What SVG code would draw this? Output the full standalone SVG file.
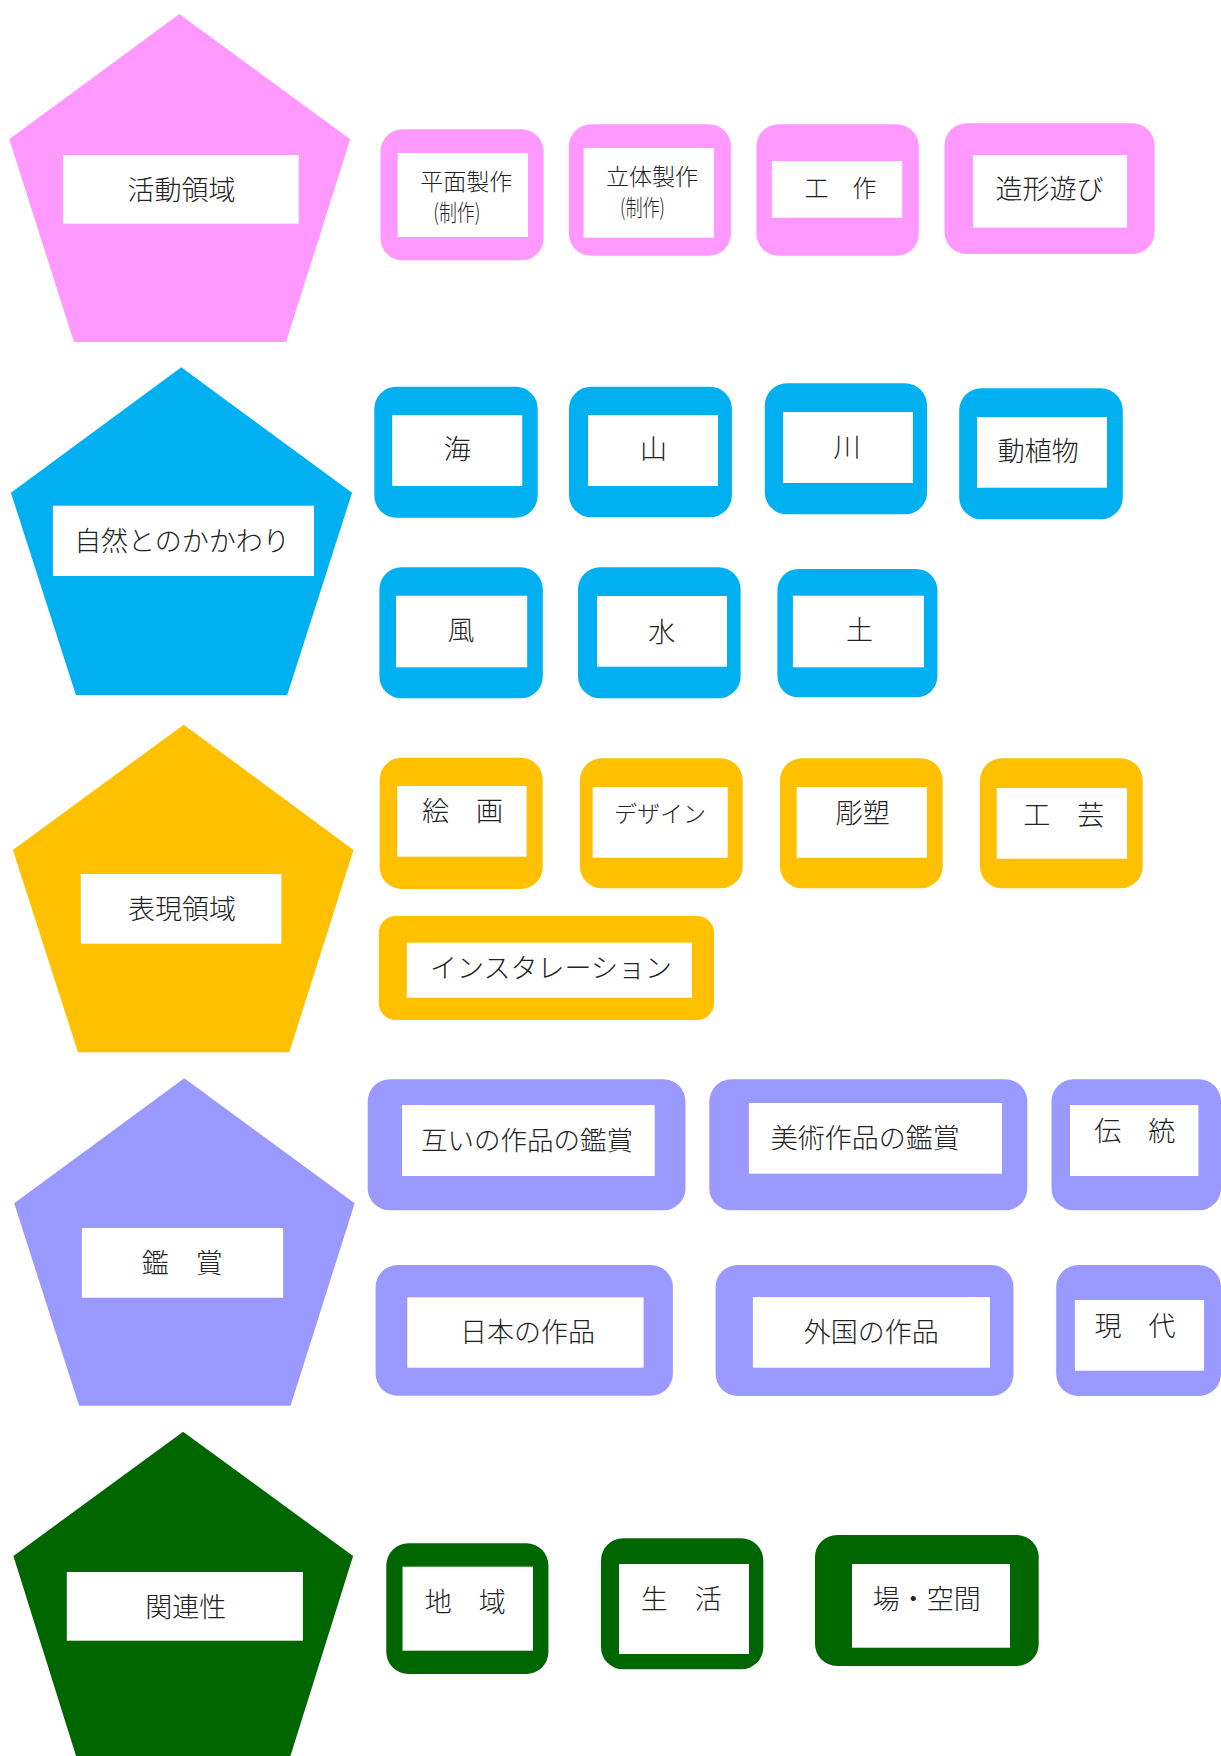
<svg xmlns="http://www.w3.org/2000/svg" width="1221" height="1756" viewBox="0 0 1221 1756">
<style>
text{font-family:"Noto Sans CJK JP","Noto Sans CJK SC",sans-serif;font-weight:300;fill:#222;text-anchor:middle;font-size:27px}
.s{font-size:23px}
.m{font-size:24px}
.w{fill:#fff}
.pk{fill:#ff99ff}
.bl{fill:#00b0f0}
.yl{fill:#ffc000}
.lv{fill:#9999ff}
.gr{fill:#006600}
</style>
<rect width="1221" height="1756" fill="#fff"/>
<g id="connectors"></g>

<!-- Row 1 -->
<g id="cat-katsudo">
<polygon class="pk" points="179.4,14 350.2,139.3 286,342 73.9,342 9.3,139.3"/>
<rect class="w" x="63" y="155" width="235.8" height="68.7"/>
<text x="181.5" y="200">活動領域</text>
</g>
<g id="n-heimen">
<rect class="pk" x="380.5" y="129.3" width="163.1" height="131" rx="22"/>
<rect class="w" x="397.7" y="153" width="130.3" height="84"/>
<text class="s" x="466.3" y="190.2">平面製作</text>
<text class="s" x="456.8" y="221.3" textLength="47" lengthAdjust="spacingAndGlyphs">(制作)</text>
</g>
<g id="n-rittai">
<rect class="pk" x="568.9" y="124.3" width="162.1" height="131.4" rx="22"/>
<rect class="w" x="583.7" y="148" width="130.3" height="89.7"/>
<text class="s" x="652" y="184.5">立体製作</text>
<text class="s" x="642.5" y="215.8" textLength="45" lengthAdjust="spacingAndGlyphs">(制作)</text>
</g>
<g id="n-kousaku">
<rect class="pk" x="756.4" y="124.3" width="162.4" height="131.4" rx="22"/>
<rect class="w" x="771.9" y="161" width="130.3" height="56.7"/>
<text class="m" x="840.5" y="196.9">工　作</text>
</g>
<g id="n-zokei">
<rect class="pk" x="944.5" y="123.3" width="210" height="130.7" rx="22"/>
<rect class="w" x="973" y="155" width="154" height="72.7"/>
<text x="1049.5" y="199.3">造形遊び</text>
</g>

<!-- Row 2 -->
<g id="cat-shizen">
<polygon class="bl" points="181.3,367.3 352.1,492.7 287.2,695 75.9,695 10.9,492.7"/>
<rect class="w" x="52.9" y="505.7" width="261.1" height="70.3"/>
<text x="182" y="550.5">自然とのかかわり</text>
</g>
<g id="n-umi">
<rect class="bl" x="374.3" y="386.7" width="163.4" height="131" rx="22"/>
<rect class="w" x="392.2" y="415" width="130" height="71"/>
<text x="457.2" y="459.3">海</text>
</g>
<g id="n-yama">
<rect class="bl" x="569" y="386.7" width="162.9" height="130.6" rx="22"/>
<rect class="w" x="588" y="415" width="130" height="71"/>
<text x="653.5" y="459.3">山</text>
</g>
<g id="n-kawa">
<rect class="bl" x="764.8" y="383.3" width="162.3" height="131" rx="22"/>
<rect class="w" x="783" y="412" width="129.9" height="71"/>
<text x="847" y="456.7">川</text>
</g>
<g id="n-doshokubutsu">
<rect class="bl" x="959.2" y="388.3" width="163.6" height="131" rx="22"/>
<rect class="w" x="977" y="417" width="130" height="70.7"/>
<text x="1038.2" y="460.8">動植物</text>
</g>
<g id="n-kaze">
<rect class="bl" x="379.4" y="567.3" width="163.4" height="131" rx="22"/>
<rect class="w" x="396" y="595.7" width="131.2" height="71.6"/>
<text x="461" y="640.3">風</text>
</g>
<g id="n-mizu">
<rect class="bl" x="578" y="567.3" width="162.6" height="131" rx="22"/>
<rect class="w" x="597" y="596" width="130" height="70.7"/>
<text x="661.7" y="642.2">水</text>
</g>
<g id="n-tsuchi">
<rect class="bl" x="777.4" y="569" width="160" height="128.3" rx="21"/>
<rect class="w" x="792.9" y="595.7" width="131.1" height="71.6"/>
<text x="859.4" y="640.3">土</text>
</g>

<!-- Row 3 -->
<g id="cat-hyogen">
<polygon class="yl" points="183.7,724.7 353.5,850 289.3,1052.3 78,1052.3 12.9,850"/>
<rect class="w" x="80.8" y="874" width="200.6" height="69.7"/>
<text x="182" y="919.2">表現領域</text>
</g>
<g id="n-kaiga">
<rect class="yl" x="379.7" y="757.7" width="163" height="131.3" rx="22"/>
<rect class="w" x="397.2" y="786" width="129.4" height="70.7"/>
<text x="462.6" y="821.2">絵　画</text>
</g>
<g id="n-design">
<rect class="yl" x="579.9" y="758.3" width="162.8" height="130" rx="22"/>
<rect class="w" x="592.7" y="787" width="135" height="70.7"/>
<text class="s" x="660" y="822">デザイン</text>
</g>
<g id="n-chouso">
<rect class="yl" x="780" y="758.3" width="162.7" height="130" rx="22"/>
<rect class="w" x="796.7" y="787" width="130.3" height="70.7"/>
<text x="862.7" y="823">彫塑</text>
</g>
<g id="n-kogei">
<rect class="yl" x="980" y="758.3" width="162.7" height="130" rx="22"/>
<rect class="w" x="996.7" y="788" width="130.3" height="70.7"/>
<text x="1063.8" y="824.8">工　芸</text>
</g>
<g id="n-installation">
<rect class="yl" x="378.8" y="916" width="335.2" height="104" rx="17"/>
<rect class="w" x="406.8" y="942.7" width="285.2" height="55"/>
<text x="551" y="978.3">インスタレーション</text>
</g>

<!-- Row 4 -->
<g id="cat-kansho">
<polygon class="lv" points="184.3,1078.3 354.7,1203.3 290.6,1405.7 79.1,1405.7 14.2,1203.3"/>
<rect class="w" x="81.9" y="1228" width="201.2" height="69.7"/>
<text x="182.3" y="1273">鑑　賞</text>
</g>
<g id="n-tagai">
<rect class="lv" x="367.7" y="1079.3" width="317.8" height="131" rx="22"/>
<rect class="w" x="402.1" y="1105" width="252.6" height="71"/>
<text x="527" y="1149.5" style="font-size:26.5px">互いの作品の鑑賞</text>
</g>
<g id="n-bijutsu">
<rect class="lv" x="709.3" y="1079.3" width="318" height="131" rx="22"/>
<rect class="w" x="748.9" y="1103" width="253.1" height="70.7"/>
<text x="865.3" y="1147.8">美術作品の鑑賞</text>
</g>
<g id="n-dento">
<rect class="lv" x="1051.5" y="1079.3" width="169.5" height="131" rx="22"/>
<rect class="w" x="1070" y="1105" width="128.4" height="71"/>
<text x="1134.7" y="1140.5">伝　統</text>
</g>
<g id="n-nihon">
<rect class="lv" x="375.6" y="1265" width="297.3" height="130.7" rx="22"/>
<rect class="w" x="407.3" y="1297.3" width="236.3" height="70.4"/>
<text x="527.4" y="1342">日本の作品</text>
</g>
<g id="n-gaikoku">
<rect class="lv" x="715.6" y="1265" width="297.9" height="131" rx="22"/>
<rect class="w" x="752.9" y="1297" width="237.1" height="70.7"/>
<text x="871.3" y="1342">外国の作品</text>
</g>
<g id="n-gendai">
<rect class="lv" x="1056.2" y="1265" width="164.8" height="131" rx="22"/>
<rect class="w" x="1074.9" y="1300" width="129.1" height="70.7"/>
<text x="1135" y="1336">現　代</text>
</g>

<!-- Row 5 -->
<g id="cat-kanren">
<polygon class="gr" points="183.1,1431.7 353.1,1556 289.5,1759 77,1759 13.4,1556"/>
<rect class="w" x="66.8" y="1572" width="236.1" height="68.7"/>
<text x="185.8" y="1617">関連性</text>
</g>
<g id="n-chiiki">
<rect class="gr" x="386.3" y="1543.3" width="162.1" height="130.7" rx="22"/>
<rect class="w" x="402.5" y="1566.7" width="130.5" height="84"/>
<text x="465.2" y="1612">地　域</text>
</g>
<g id="n-seikatsu">
<rect class="gr" x="601" y="1538.3" width="162.3" height="131" rx="22"/>
<rect class="w" x="619" y="1564" width="130" height="90"/>
<text x="681.2" y="1609.2">生　活</text>
</g>
<g id="n-ba">
<rect class="gr" x="815" y="1535" width="223.7" height="131" rx="22"/>
<rect class="w" x="852" y="1564" width="158" height="83.7"/>
<text x="926.7" y="1608.8">場・空間</text>
</g>
</svg>
